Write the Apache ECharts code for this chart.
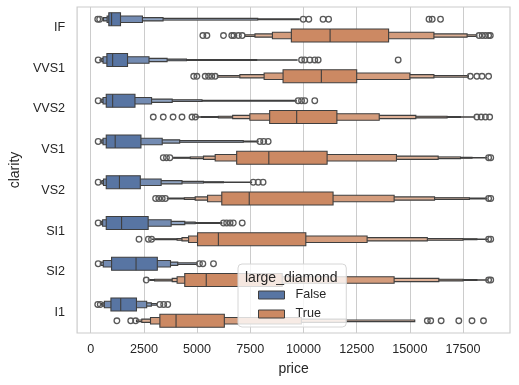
<!DOCTYPE html>
<html><head><meta charset="utf-8">
<script src="https://cdn.jsdelivr.net/npm/echarts@6/dist/echarts.min.js"></script>
<style>html,body{margin:0;padding:0;background:#fff}#c{width:519px;height:385px}</style>
</head><body><div id="c"></div>
<script>
const categories = ['IF','VVS1','VVS2','VS1','VS2','SI1','SI2','I1'];
const xTicks = [0,2500,5000,7500,10000,12500,15000,17500];
const hueNames = ['False','True'];

const falseMedians = [980, 1030, 1030, 1150, 1350, 1450, 2130, 1410];
const falseLevels = [
  [[850,1400],[770,2430],[600,3400],[560,7850],[540,9800]],
  [[760,1730],[580,2740],[520,3590],[480,4500],[450,7800],[430,9700]],
  [[730,2080],[580,2860],[520,3830],[480,5230],[450,9660]],
  [[730,2360],[580,3360],[520,4180],[480,7170],[450,7870]],
  [[730,2330],[600,3310],[530,4290],[490,5300],[460,6240],[450,7560]],
  [[730,2700],[560,3780],[500,4420],[470,4910],[450,6160]],
  [[980,3130],[590,3750],[480,4090],[450,5000]],
  [[950,2150],[640,2630],[560,2850],[500,3100]]
];
const falseOutliers = [
  [330, 420, 9990, 10250, 10920, 11180, 15900, 16050, 16440],
  [350, 9910, 10060, 10300, 10530, 10690, 14450],
  [350, 9750, 9910, 10060, 10530],
  [350, 7950, 8130, 8340],
  [350, 7640, 7870, 8100],
  [350, 6240, 6390, 6550, 6700, 7120],
  [350, 5110, 5270, 5770],
  [330, 450, 3250, 3430, 3620]
];

const trueMedians = [11250, 10840, 9680, 8370, 7450, 6000, 5430, 4010];
const trueLevels = [
  [[9430,14000],[8540,16130],[7720,17690],[7250,18150]],
  [[9040,12500],[8150,15000],[7010,16130],[5950,17750]],
  [[8410,11570],[7480,13560],[6670,15280],[6000,16750],[5200,17380],[4950,18050]],
  [[6860,11110],[5850,14370],[5300,16330],[4680,17380],[3900,17920],[3850,18600]],
  [[6160,11390],[5490,14260],[4910,16160],[4400,17800],[3600,18600]],
  [[5020,10110],[4600,12990],[4290,15820],[4060,17500],[3000,18150],[2900,18650]],
  [[4420,9000],[4060,14260],[3830,16360],[3000,17500],[2800,18150],[2700,18650]],
  [[3250,6280],[2810,9900],[2400,12000],[2150,15230]]
];
const trueOutliers = [
  [5270, 5460, 6240, 6630, 6730, 6940, 7120, 18250, 18400, 18550, 18700, 18780],
  [4840, 4990, 5380, 5540, 5690, 5850, 17840, 18150, 18390, 18700],
  [2940, 3410, 3870, 4290, 4760, 4920, 18150, 18350, 18550, 18750],
  [3410, 3560, 3720, 18700, 18800],
  [3050, 3200, 3360, 3510, 18700, 18800],
  [2270, 2710, 2860, 18700, 18800],
  [2610, 18700, 18800],
  [1230, 1880, 2110, 15820, 15980, 16470, 17300, 17920, 18460]
];

const baseColors = [[88,117,163],[204,137,99]];
const lightMix = [0, 0.16, 0.33, 0.48, 0.6, 0.7, 0.78];
const edge = '#3f3f3f';
function levelColor(hue, lvl){
  const c = baseColors[hue], f = lightMix[Math.min(lvl, lightMix.length-1)];
  return 'rgb(' + c.map(v => Math.round(v + (255 - v) * f)).join(',') + ')';
}
function boxData(levels, hue){
  const out = [];
  levels.forEach((lv, ci) => lv.forEach((p, li) => out.push([p[0], ci, p[1], li, hue])));
  out.sort((a, b) => b[3] - a[3]);
  return out;
}
function medData(meds, hue){ return meds.map((m, ci) => [m, ci, hue]); }
function outData(outs, hue){
  const r = []; outs.forEach((arr, ci) => arr.forEach(v => r.push([v, ci, hue]))); return r;
}
function renderBox(params, api){
  const lo = api.value(0), ci = api.value(1), hi = api.value(2), lvl = api.value(3), hue = api.value(4);
  const p0 = api.coord([lo, ci]), p1 = api.coord([hi, ci]);
  const band = api.size([0, 1])[1];
  const off = (hue ? 1 : -1) * band * 0.2;
  const h = band * 0.32 * Math.pow(0.5, lvl);
  return {type:'rect', shape:{x:p0[0], y:p0[1] + off - h/2, width:p1[0] - p0[0], height:h},
    style:{fill:levelColor(hue, lvl), stroke:edge, lineWidth:1.1}};
}
function renderMed(params, api){
  const m = api.value(0), ci = api.value(1), hue = api.value(2);
  const p = api.coord([m, ci]);
  const band = api.size([0, 1])[1];
  const off = (hue ? 1 : -1) * band * 0.2;
  const h = band * 0.32;
  return {type:'line', shape:{x1:p[0], y1:p[1] + off - h/2, x2:p[0], y2:p[1] + off + h/2},
    style:{stroke:edge, lineWidth:1.1}};
}
function renderOut(params, api){
  const v = api.value(0), ci = api.value(1), hue = api.value(2);
  const p = api.coord([v, ci]);
  const band = api.size([0, 1])[1];
  const off = (hue ? 1 : -1) * band * 0.2;
  return {type:'circle', shape:{cx:p[0], cy:p[1] + off, r:2.8},
    style:{fill:'none', stroke:'#595959', lineWidth:1.3}};
}

const series = [];
[[falseLevels, falseMedians, falseOutliers], [trueLevels, trueMedians, trueOutliers]].forEach((g, hue) => {
  series.push({type:'custom', name:hueNames[hue], renderItem:renderBox, data:boxData(g[0], hue),
    encode:{x:[0,2], y:1}, itemStyle:{color:levelColor(hue,0), borderColor:edge}, z:2});
  series.push({type:'custom', name:'med' + hue, renderItem:renderMed, data:medData(g[1], hue),
    encode:{x:0, y:1}, z:3});
  series.push({type:'custom', name:'out' + hue, renderItem:renderOut, data:outData(g[2], hue),
    encode:{x:0, y:1}, z:3});
});

const txt = '#262626';
const chart = echarts.init(document.getElementById('c'), null, {renderer:'canvas'});
chart.setOption({
  animation:false,
  backgroundColor:'#ffffff',
  textStyle:{fontFamily:'"Liberation Sans", Arial, sans-serif'},
  grid:{left:74, right:9, top:7, bottom:52, show:true, borderColor:'#cccccc', borderWidth:1.2, backgroundColor:'transparent'},
  xAxis:{type:'value', min:-640, max:19706, name:'price', nameLocation:'middle', nameGap:29,
    nameTextStyle:{fontSize:14, color:txt},
    axisLine:{show:false}, axisTick:{show:false, customValues:xTicks},
    axisLabel:{customValues:xTicks, margin:10, fontSize:12.6, color:txt, formatter:v => String(v)},
    splitLine:{show:true, lineStyle:{color:'#cccccc', width:1}}},
  yAxis:{type:'category', data:categories, inverse:true, name:'clarity', nameLocation:'middle', nameGap:50,
    nameTextStyle:{fontSize:14, color:txt},
    axisLine:{show:false}, axisTick:{show:false}, splitLine:{show:false},
    axisLabel:{margin:12, fontSize:12.6, color:txt}},
  legend:{orient:'vertical', left:238, top:264, padding:[24,20,6,20], itemGap:5,
    itemWidth:26, itemHeight:8, backgroundColor:'rgba(255,255,255,0.8)', borderColor:'#d6d6d6', borderWidth:1, borderRadius:4,
    textStyle:{fontSize:12.6, color:txt, lineHeight:14, padding:[0,0,0,6]},
    data:[
      {name:'False', icon:'rect', itemStyle:{color:levelColor(0,0), borderColor:edge, borderWidth:1}},
      {name:'True', icon:'rect', itemStyle:{color:levelColor(1,0), borderColor:edge, borderWidth:1}}
    ], selectedMode:false, z:10},
  title:{text:'large_diamond', left:245, top:271, padding:0, z:11,
    textStyle:{fontSize:14, fontWeight:'normal', color:txt}},
  series:series
});
</script></body></html>
